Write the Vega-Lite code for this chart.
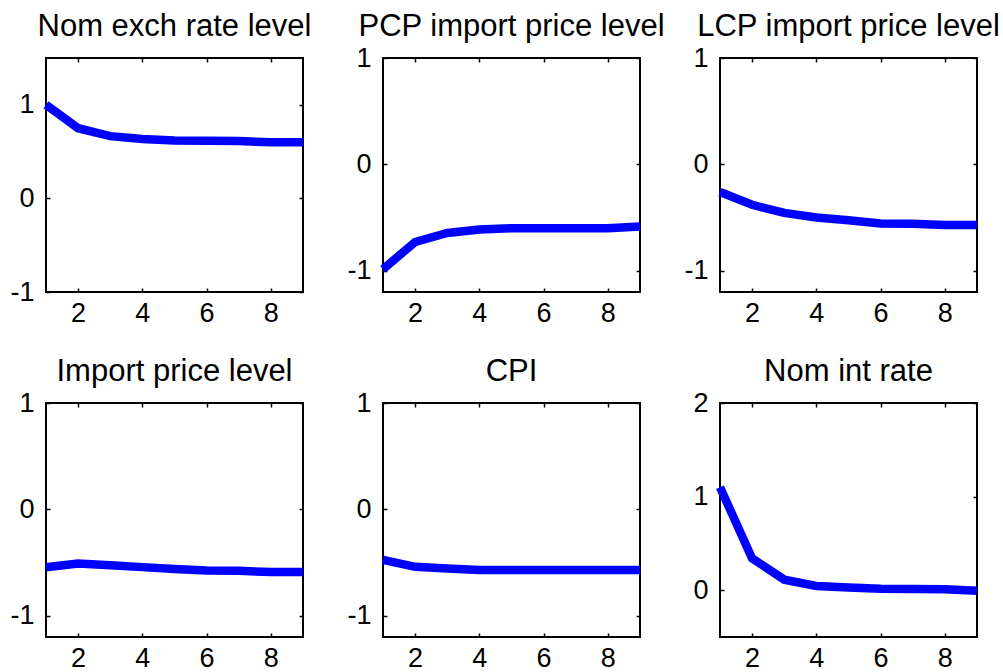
{
  "$schema": "https://vega.github.io/schema/vega-lite/v6.json",
  "background": "white",
  "padding": {"left": 8, "top": 10, "right": 0, "bottom": 0},
  "datasets": {
    "irf": [
      {"panel": "Nom exch rate level", "t": 1, "v": 1.0},
      {"panel": "Nom exch rate level", "t": 2, "v": 0.75},
      {"panel": "Nom exch rate level", "t": 3, "v": 0.665},
      {"panel": "Nom exch rate level", "t": 4, "v": 0.635},
      {"panel": "Nom exch rate level", "t": 5, "v": 0.618},
      {"panel": "Nom exch rate level", "t": 6, "v": 0.615},
      {"panel": "Nom exch rate level", "t": 7, "v": 0.612},
      {"panel": "Nom exch rate level", "t": 8, "v": 0.6},
      {"panel": "Nom exch rate level", "t": 9, "v": 0.6},
      {"panel": "PCP import price level", "t": 1, "v": -0.985},
      {"panel": "PCP import price level", "t": 2, "v": -0.73},
      {"panel": "PCP import price level", "t": 3, "v": -0.645},
      {"panel": "PCP import price level", "t": 4, "v": -0.613},
      {"panel": "PCP import price level", "t": 5, "v": -0.6},
      {"panel": "PCP import price level", "t": 6, "v": -0.6},
      {"panel": "PCP import price level", "t": 7, "v": -0.6},
      {"panel": "PCP import price level", "t": 8, "v": -0.6},
      {"panel": "PCP import price level", "t": 9, "v": -0.585},
      {"panel": "LCP import price level", "t": 1, "v": -0.26},
      {"panel": "LCP import price level", "t": 2, "v": -0.38},
      {"panel": "LCP import price level", "t": 3, "v": -0.456},
      {"panel": "LCP import price level", "t": 4, "v": -0.5},
      {"panel": "LCP import price level", "t": 5, "v": -0.525},
      {"panel": "LCP import price level", "t": 6, "v": -0.555},
      {"panel": "LCP import price level", "t": 7, "v": -0.558},
      {"panel": "LCP import price level", "t": 8, "v": -0.57},
      {"panel": "LCP import price level", "t": 9, "v": -0.57},
      {"panel": "Import price level", "t": 1, "v": -0.545},
      {"panel": "Import price level", "t": 2, "v": -0.51},
      {"panel": "Import price level", "t": 3, "v": -0.525},
      {"panel": "Import price level", "t": 4, "v": -0.543},
      {"panel": "Import price level", "t": 5, "v": -0.56},
      {"panel": "Import price level", "t": 6, "v": -0.575},
      {"panel": "Import price level", "t": 7, "v": -0.577},
      {"panel": "Import price level", "t": 8, "v": -0.59},
      {"panel": "Import price level", "t": 9, "v": -0.59},
      {"panel": "CPI", "t": 1, "v": -0.475},
      {"panel": "CPI", "t": 2, "v": -0.54},
      {"panel": "CPI", "t": 3, "v": -0.556},
      {"panel": "CPI", "t": 4, "v": -0.57},
      {"panel": "CPI", "t": 5, "v": -0.57},
      {"panel": "CPI", "t": 6, "v": -0.57},
      {"panel": "CPI", "t": 7, "v": -0.57},
      {"panel": "CPI", "t": 8, "v": -0.57},
      {"panel": "CPI", "t": 9, "v": -0.57},
      {"panel": "Nom int rate", "t": 1, "v": 1.1},
      {"panel": "Nom int rate", "t": 2, "v": 0.34},
      {"panel": "Nom int rate", "t": 3, "v": 0.113},
      {"panel": "Nom int rate", "t": 4, "v": 0.045},
      {"panel": "Nom int rate", "t": 5, "v": 0.03},
      {"panel": "Nom int rate", "t": 6, "v": 0.015},
      {"panel": "Nom int rate", "t": 7, "v": 0.012},
      {"panel": "Nom int rate", "t": 8, "v": 0.01},
      {"panel": "Nom int rate", "t": 9, "v": -0.005}
    ]
  },
  "columns": 3,
  "bounds": "flush",
  "spacing": {"column": 80, "row": 111},
  "concat": [
    {
      "width": 257, "height": 234,
      "title": {"text": "Nom exch rate level", "offset": 14},
      "data": {"name": "irf"},
      "transform": [{"filter": "datum.panel === 'Nom exch rate level'"}],
      "resolve": {"axis": {"x": "independent", "y": "independent"}},
      "layer": [
        {
          "mark": {"type": "line", "color": "#0000FF", "strokeWidth": 8.5},
          "encoding": {
            "x": {"field": "t", "type": "quantitative", "scale": {"domain": [1, 9], "nice": false, "zero": false}, "axis": {"orient": "bottom", "values": [2, 4, 6, 8]}},
            "y": {"field": "v", "type": "quantitative", "scale": {"domain": [-1, 1.5], "nice": false, "zero": false}, "axis": {"orient": "left", "values": [-1, 0, 1]}}
          }
        },
        {
          "mark": {"type": "line", "opacity": 0},
          "encoding": {
            "x": {"field": "t", "type": "quantitative", "axis": {"orient": "top", "values": [2, 4, 6, 8], "labels": false}},
            "y": {"field": "v", "type": "quantitative", "axis": {"orient": "right", "values": [-1, 0, 1], "labels": false}}
          }
        }
      ]
    },
    {
      "width": 257, "height": 234,
      "title": {"text": "PCP import price level", "offset": 1},
      "data": {"name": "irf"},
      "transform": [{"filter": "datum.panel === 'PCP import price level'"}],
      "resolve": {"axis": {"x": "independent", "y": "independent"}},
      "layer": [
        {
          "mark": {"type": "line", "color": "#0000FF", "strokeWidth": 8.5},
          "encoding": {
            "x": {"field": "t", "type": "quantitative", "scale": {"domain": [1, 9], "nice": false, "zero": false}, "axis": {"orient": "bottom", "values": [2, 4, 6, 8]}},
            "y": {"field": "v", "type": "quantitative", "scale": {"domain": [-1.2, 1], "nice": false, "zero": false}, "axis": {"orient": "left", "values": [-1, 0, 1]}}
          }
        },
        {
          "mark": {"type": "line", "opacity": 0},
          "encoding": {
            "x": {"field": "t", "type": "quantitative", "axis": {"orient": "top", "values": [2, 4, 6, 8], "labels": false}},
            "y": {"field": "v", "type": "quantitative", "axis": {"orient": "right", "values": [-1, 0, 1], "labels": false}}
          }
        }
      ]
    },
    {
      "width": 257, "height": 234,
      "title": {"text": "LCP import price level", "offset": 1},
      "data": {"name": "irf"},
      "transform": [{"filter": "datum.panel === 'LCP import price level'"}],
      "resolve": {"axis": {"x": "independent", "y": "independent"}},
      "layer": [
        {
          "mark": {"type": "line", "color": "#0000FF", "strokeWidth": 8.5},
          "encoding": {
            "x": {"field": "t", "type": "quantitative", "scale": {"domain": [1, 9], "nice": false, "zero": false}, "axis": {"orient": "bottom", "values": [2, 4, 6, 8]}},
            "y": {"field": "v", "type": "quantitative", "scale": {"domain": [-1.2, 1], "nice": false, "zero": false}, "axis": {"orient": "left", "values": [-1, 0, 1]}}
          }
        },
        {
          "mark": {"type": "line", "opacity": 0},
          "encoding": {
            "x": {"field": "t", "type": "quantitative", "axis": {"orient": "top", "values": [2, 4, 6, 8], "labels": false}},
            "y": {"field": "v", "type": "quantitative", "axis": {"orient": "right", "values": [-1, 0, 1], "labels": false}}
          }
        }
      ]
    },
    {
      "width": 257, "height": 234,
      "title": {"text": "Import price level", "offset": 1},
      "data": {"name": "irf"},
      "transform": [{"filter": "datum.panel === 'Import price level'"}],
      "resolve": {"axis": {"x": "independent", "y": "independent"}},
      "layer": [
        {
          "mark": {"type": "line", "color": "#0000FF", "strokeWidth": 8.5},
          "encoding": {
            "x": {"field": "t", "type": "quantitative", "scale": {"domain": [1, 9], "nice": false, "zero": false}, "axis": {"orient": "bottom", "values": [2, 4, 6, 8]}},
            "y": {"field": "v", "type": "quantitative", "scale": {"domain": [-1.2, 1], "nice": false, "zero": false}, "axis": {"orient": "left", "values": [-1, 0, 1]}}
          }
        },
        {
          "mark": {"type": "line", "opacity": 0},
          "encoding": {
            "x": {"field": "t", "type": "quantitative", "axis": {"orient": "top", "values": [2, 4, 6, 8], "labels": false}},
            "y": {"field": "v", "type": "quantitative", "axis": {"orient": "right", "values": [-1, 0, 1], "labels": false}}
          }
        }
      ]
    },
    {
      "width": 257, "height": 234,
      "title": {"text": "CPI", "offset": 1},
      "data": {"name": "irf"},
      "transform": [{"filter": "datum.panel === 'CPI'"}],
      "resolve": {"axis": {"x": "independent", "y": "independent"}},
      "layer": [
        {
          "mark": {"type": "line", "color": "#0000FF", "strokeWidth": 8.5},
          "encoding": {
            "x": {"field": "t", "type": "quantitative", "scale": {"domain": [1, 9], "nice": false, "zero": false}, "axis": {"orient": "bottom", "values": [2, 4, 6, 8]}},
            "y": {"field": "v", "type": "quantitative", "scale": {"domain": [-1.2, 1], "nice": false, "zero": false}, "axis": {"orient": "left", "values": [-1, 0, 1]}}
          }
        },
        {
          "mark": {"type": "line", "opacity": 0},
          "encoding": {
            "x": {"field": "t", "type": "quantitative", "axis": {"orient": "top", "values": [2, 4, 6, 8], "labels": false}},
            "y": {"field": "v", "type": "quantitative", "axis": {"orient": "right", "values": [-1, 0, 1], "labels": false}}
          }
        }
      ]
    },
    {
      "width": 257, "height": 234,
      "title": {"text": "Nom int rate", "offset": 1},
      "data": {"name": "irf"},
      "transform": [{"filter": "datum.panel === 'Nom int rate'"}],
      "resolve": {"axis": {"x": "independent", "y": "independent"}},
      "layer": [
        {
          "mark": {"type": "line", "color": "#0000FF", "strokeWidth": 8.5},
          "encoding": {
            "x": {"field": "t", "type": "quantitative", "scale": {"domain": [1, 9], "nice": false, "zero": false}, "axis": {"orient": "bottom", "values": [2, 4, 6, 8]}},
            "y": {"field": "v", "type": "quantitative", "scale": {"domain": [-0.5, 2], "nice": false, "zero": false}, "axis": {"orient": "left", "values": [0, 1, 2]}}
          }
        },
        {
          "mark": {"type": "line", "opacity": 0},
          "encoding": {
            "x": {"field": "t", "type": "quantitative", "axis": {"orient": "top", "values": [2, 4, 6, 8], "labels": false}},
            "y": {"field": "v", "type": "quantitative", "axis": {"orient": "right", "values": [0, 1, 2], "labels": false}}
          }
        }
      ]
    }
  ],
  "config": {
    "font": "Liberation Sans",
    "view": {"stroke": "black", "strokeWidth": 2},
    "axis": {
      "domain": false,
      "grid": false,
      "title": null,
      "labelFont": "Liberation Sans",
      "labelFontSize": 27,
      "labelColor": "black",
      "tickColor": "black",
      "tickWidth": 1.5,
      "tickSize": -4,
      "labelFlush": false,
      "labelOverlap": false,
      "labelExpr": "datum.value < 0 ? '-' + format(-datum.value, '') : datum.label"
    },
    "axisX": {"labelPadding": 12},
    "axisY": {"labelPadding": 16},
    "title": {
      "font": "Liberation Sans",
      "fontSize": 31,
      "fontWeight": "normal",
      "color": "black",
      "anchor": "middle",
      "frame": "group"
    }
  }
}
